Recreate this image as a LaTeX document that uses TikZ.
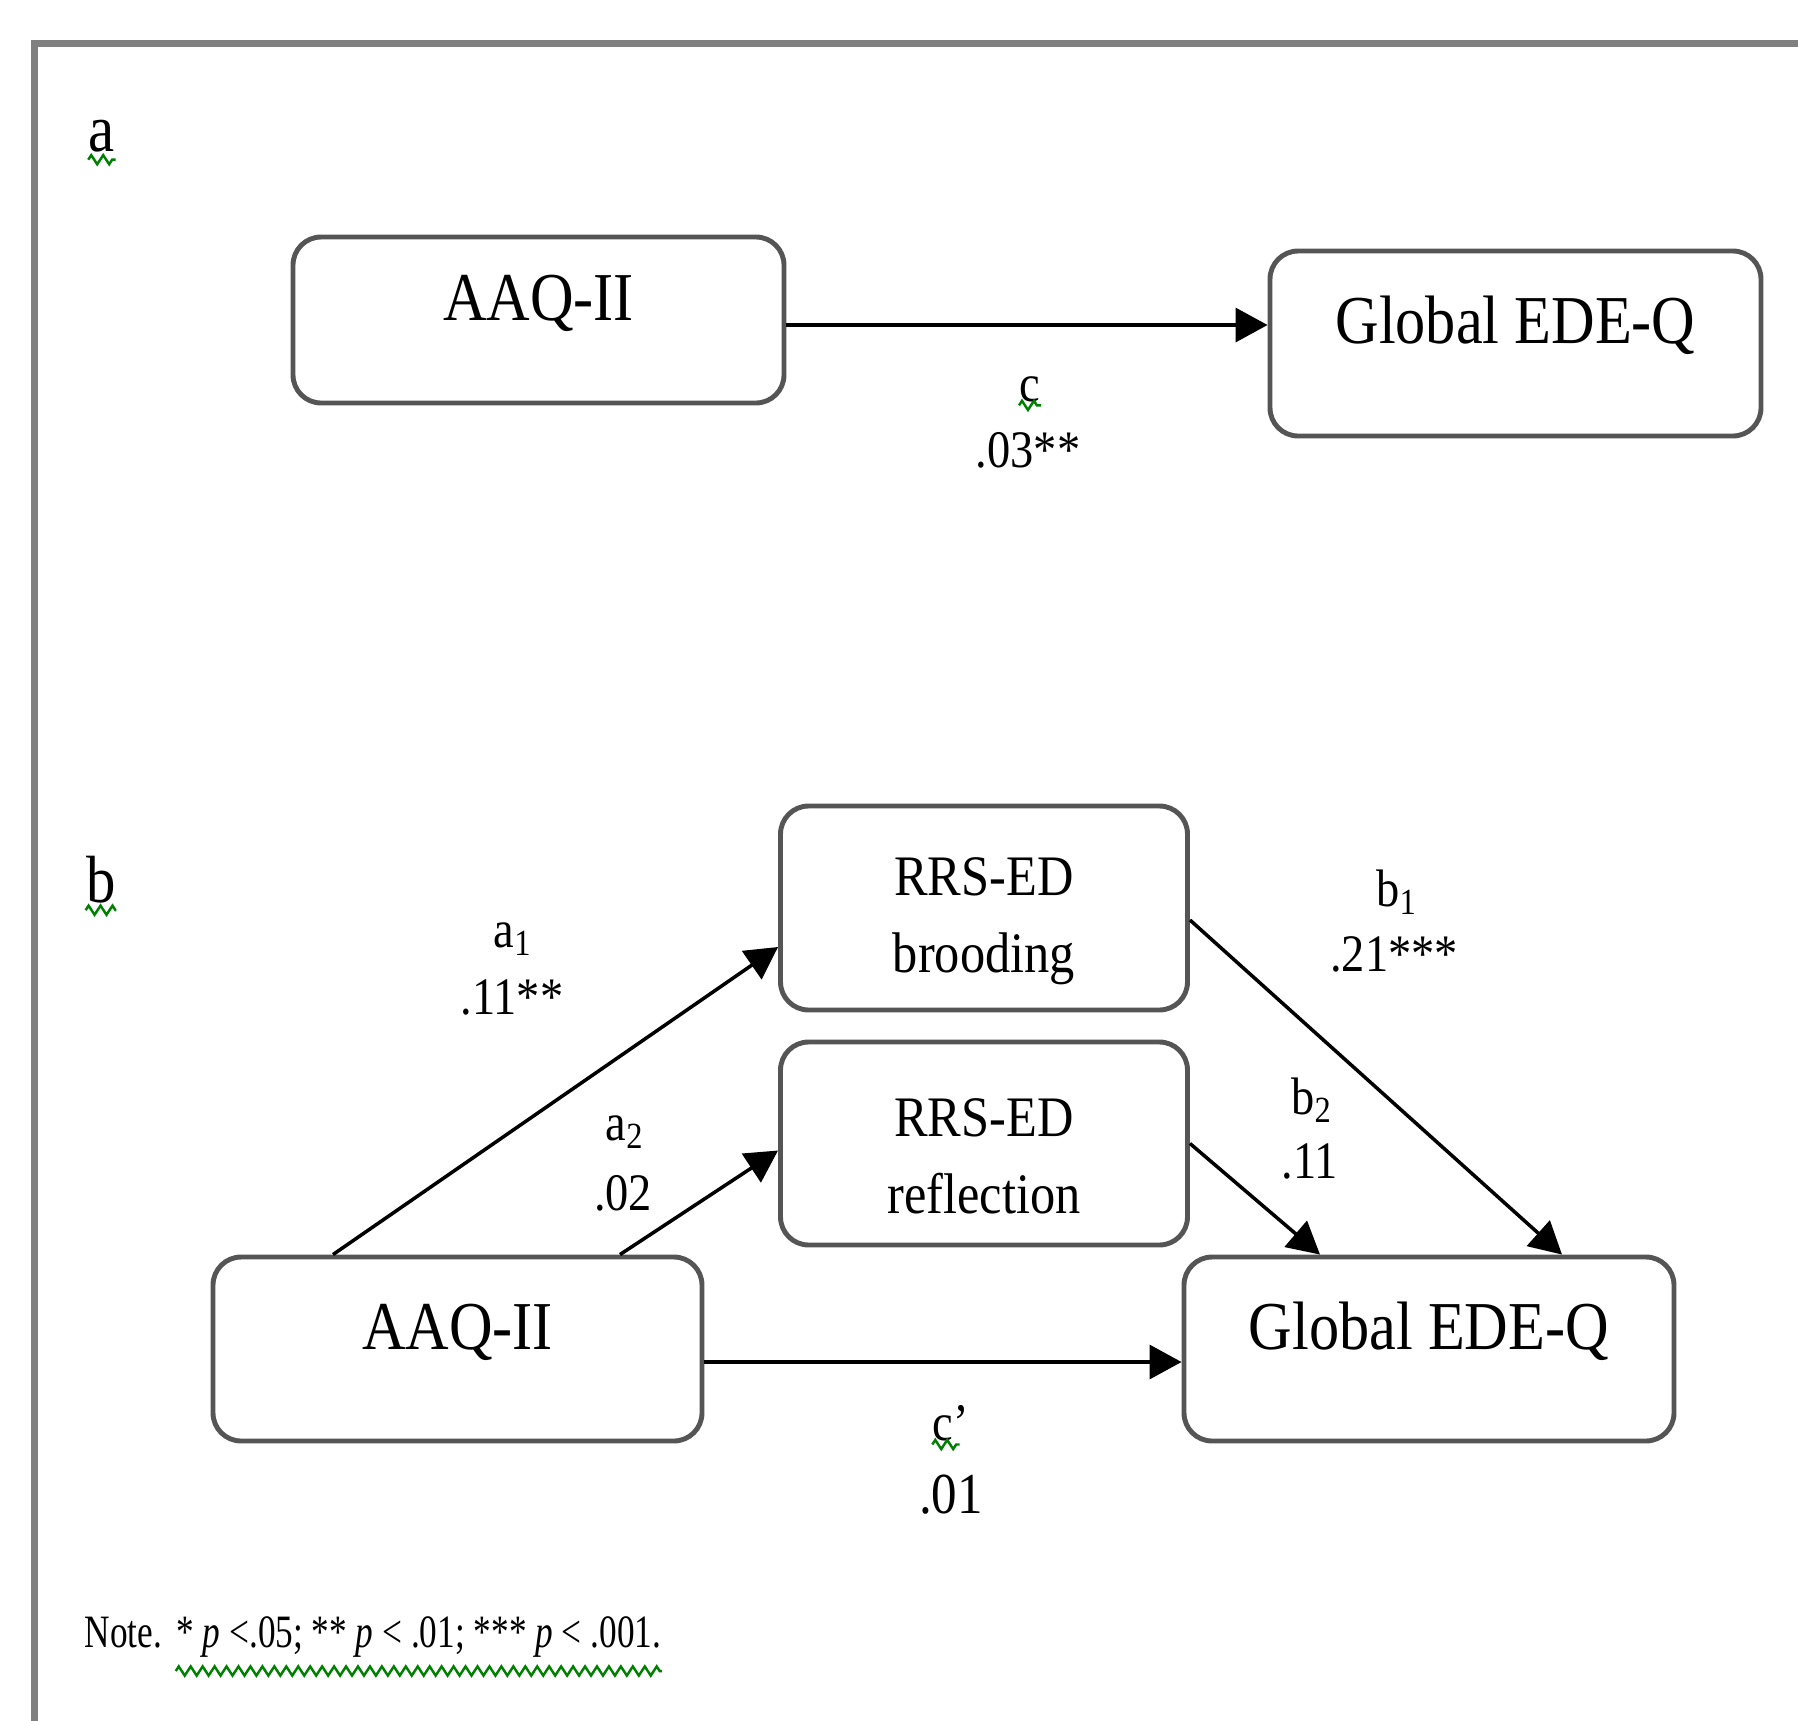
\documentclass[tikz,border=0pt]{standalone}
\usepackage{fontspec}
\setmainfont[FakeStretch=0.88]{Liberation Serif}
\newfontfamily\notefont[FakeStretch=0.76]{Liberation Serif}
\usepackage{tikz}
\usetikzlibrary{arrows.meta, positioning, decorations.pathmorphing}
\definecolor{framegray}{RGB}{128,128,128}
\definecolor{boxline}{RGB}{85,85,85}
\definecolor{spellgreen}{RGB}{0,128,0}
\newcommand{\boxsize}{\fontsize{19.5}{23}\selectfont}
\newcommand{\medsize}{\fontsize{16.3}{21.9}\selectfont}
\newcommand{\coefsize}{\fontsize{15}{18}\selectfont}
\newcommand{\valsize}{\fontsize{16.5}{19}\selectfont}
\newcommand{\panelsize}{\fontsize{19}{23}\selectfont}
\newcommand{\notesize}{\notefont\fontsize{13.2}{16}\selectfont}
\newcommand{\topgap}{\rule{0pt}{0.64cm}}
\tikzset{
  frame/.style={draw=framegray, line width=2pt},
  varbox/.style={draw=boxline, rectangle, rounded corners=8pt, line width=1.4pt, inner sep=0pt, font=\boxsize, text height=0.5cm, text depth=0.5cm},
  medbox/.style={draw=boxline, rectangle, rounded corners=8pt, line width=1.4pt, inner sep=0pt, align=center, font=\medsize, minimum width=4.07cm, minimum height=2.04cm},
  arrow/.style={draw=black, line width=1pt, -{Triangle[length=0.32cm, width=0.34cm]}},
  coef/.style={inner sep=0pt, font=\coefsize},
  panel/.style={inner sep=0pt, font=\panelsize},
  note/.style={inner sep=0pt, font=\notesize},
  squiggle/.style={draw=spellgreen, line width=0.7pt, decorate, decoration={zigzag, segment length=3.4pt, amplitude=1.3pt}}
}

\begin{document}
\begin{tikzpicture}
  \useasboundingbox (0,0) rectangle (17.98,-17.20);
  \draw [frame] (0.345,-17.4) -- (0.345,-0.435) -- (18.2,-0.435);

  % panel a
  \node [panel] (pa) at (1.02,-1.36) {a};
  \draw [squiggle] ([yshift=-0.07cm]pa.south west) -- ([yshift=-0.07cm]pa.south east);
  \node [varbox, minimum width=4.91cm, minimum height=1.66cm] (aaqA) at (5.385,-3.20) {AAQ-II};
  \node [varbox, minimum width=4.91cm, minimum height=1.85cm] (edeA) at (15.155,-3.435) {Global EDE-Q};
  \coordinate (cstart) at ([yshift=-0.05cm]aaqA.east);
  \draw [arrow] (cstart) -- (cstart -| edeA.west);
  \node [coef] (cA) at (10.30,-3.89) {c};
  \draw [squiggle] ([yshift=-0.03cm]cA.south west) -- ([yshift=-0.03cm]cA.south east);
  \node [coef] (cAval) at (10.28,-4.50) {.03**};

  % panel b
  \node [panel] (pb) at (1.01,-8.80) {b};
  \draw [squiggle] ([yshift=-0.06cm]pb.south west) -- ([yshift=-0.06cm]pb.south east);
  \node [medbox] (brood) at (9.84,-9.08) {\topgap RRS-ED\\brooding};
  \node [medbox, minimum height=2.03cm] (refl) at (9.84,-11.435) {\topgap RRS-ED\\reflection};
  \node [varbox, minimum width=4.89cm, minimum height=1.84cm] (aaqB) at (4.575,-13.49) {AAQ-II};
  \node [varbox, minimum width=4.90cm, minimum height=1.84cm] (edeB) at (14.29,-13.49) {Global EDE-Q};

  \draw [arrow] ([xshift=-1.245cm]aaqB.north) -- ([yshift=-0.39cm]brood.west);
  \draw [arrow] ([xshift=1.625cm]aaqB.north) -- ([yshift=-0.07cm]refl.west);
  \draw [arrow] ([yshift=-0.12cm]brood.east) -- ([xshift=1.33cm]edeB.north);
  \draw [arrow] (refl.east) -- ([xshift=-1.09cm]edeB.north);
  \draw [arrow] ([yshift=-0.13cm]aaqB.east) -- ([yshift=-0.13cm]edeB.west);

  \node [coef] (a1lbl) at (5.13,-9.39) {a\textsubscript{1}};
  \node [coef] (a1val) at (5.12,-9.97) {.11**};
  \node [coef] (a2lbl) at (6.25,-11.32) {a\textsubscript{2}};
  \node [coef] (a2val) at (6.23,-11.93) {.02};
  \node [coef] (b1lbl) at (13.97,-8.92) {b\textsubscript{1}};
  \node [coef] (b1val) at (13.94,-9.54) {.21***};
  \node [coef] (b2lbl) at (13.12,-11.00) {b\textsubscript{2}};
  \node [coef] (b2val) at (13.10,-11.61) {.11};
  \node [coef] (cBlbl) at (9.51,-14.23) {c’};
  \draw [squiggle] ([yshift=-0.03cm]cBlbl.south west) -- ([yshift=-0.03cm, xshift=-0.1cm]cBlbl.south east);
  \node [coef, font=\valsize] (cBval) at (9.51,-14.95) {.01};

  % note
  \node [note, anchor=base west] (notehead) at (0.84,-16.47) {Note.};
  \node [note, base right=0.13cm of notehead] (notebody) {* \textit{p} <.05; ** \textit{p} < .01; *** \textit{p} < .001.};
  \draw [squiggle] ([yshift=-0.24cm]notebody.base west) -- ([yshift=-0.24cm]notebody.base east);
\end{tikzpicture}
\end{document}
